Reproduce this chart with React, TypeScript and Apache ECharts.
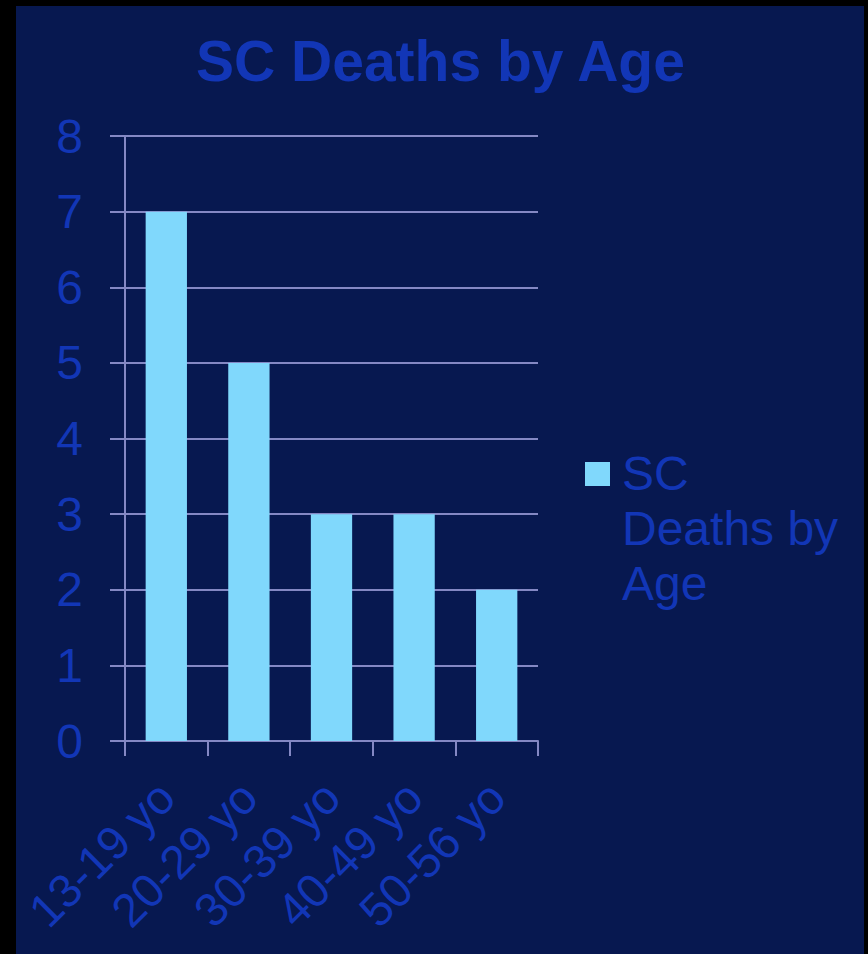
import React, { useEffect, useRef } from "react";
import * as echarts from "echarts";

const categories = ["13-19 yo", "20-29 yo", "30-39 yo", "40-49 yo", "50-56 yo"];
const deaths = [7, 5, 3, 3, 2];
const seriesName = "SC Deaths by Age";
const legendLines = ["SC", "Deaths by", "Age"];

const NAVY = "#071850";
const TEXT = "#1236b6";
const BAR = "#80d8fc";
const LINE = "#8488c4";
const FONT = "'Liberation Sans', Arial, Helvetica, sans-serif";

export default function App() {
  const ref = useRef<HTMLDivElement>(null);
  useEffect(() => {
    if (!ref.current) return;
    const chart = echarts.init(ref.current, undefined, { renderer: "svg" });
    chart.setOption({
      animation: false,
      backgroundColor: NAVY,
      textStyle: { fontFamily: FONT },
      title: {
        text: seriesName,
        left: 175,
        top: 21,
        textStyle: { color: TEXT, fontSize: 57, fontWeight: "bold", fontFamily: FONT },
      },
      grid: { left: 109, top: 130, right: 326, bottom: 213, containLabel: false },
      xAxis: {
        type: "category",
        data: categories,
        boundaryGap: true,
        axisLine: { show: true, lineStyle: { color: LINE, width: 2 } },
        axisTick: { show: true, length: 15, lineStyle: { color: LINE, width: 2 } },
        axisLabel: {
          interval: 0,
          rotate: 45,
          margin: 48,
          color: TEXT,
          fontSize: 47,
          fontFamily: FONT,
        },
      },
      yAxis: {
        type: "value",
        min: 0,
        max: 8,
        interval: 1,
        axisLine: { show: true, lineStyle: { color: LINE, width: 2 } },
        axisTick: { show: true, length: 15, lineStyle: { color: LINE, width: 2 } },
        splitLine: { show: true, lineStyle: { color: LINE, width: 2 } },
        axisLabel: { margin: 42, color: TEXT, fontSize: 48, fontFamily: FONT },
      },
      series: [
        {
          name: seriesName,
          type: "bar",
          data: deaths,
          barWidth: "50%",
          itemStyle: { color: BAR },
        },
      ],
      graphic: [
        {
          type: "rect",
          shape: { x: 569, y: 456, width: 25, height: 24 },
          style: { fill: BAR },
        },
        {
          type: "text",
          x: 606,
          y: 440,
          style: {
            text: legendLines.join("\n"),
            fill: TEXT,
            font: `48px ${FONT}`,
            lineHeight: 55,
            verticalAlign: "top",
          },
        },
      ],
    });
    return () => chart.dispose();
  }, []);

  return (
    <div style={{ position: "fixed", left: 0, top: 0, width: 868, height: 954, background: "#000" }}>
      <div ref={ref} style={{ position: "absolute", left: 16, top: 6, width: 848, height: 948 }} />
    </div>
  );
}
